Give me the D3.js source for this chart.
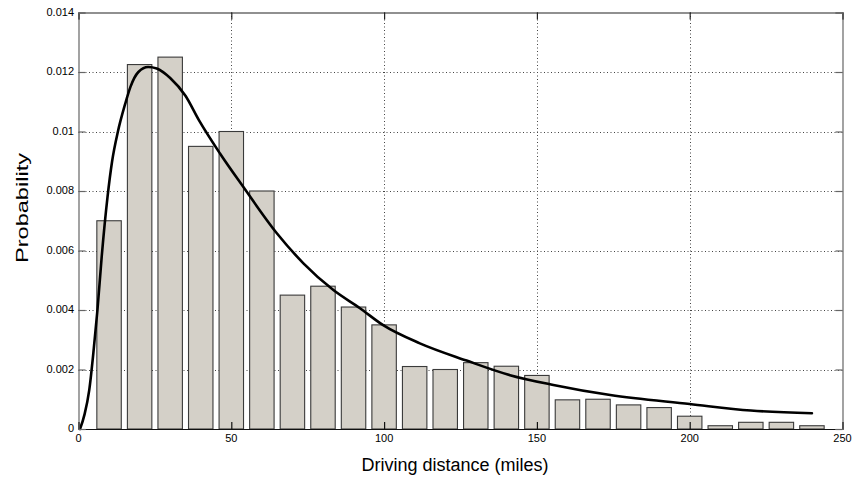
<!DOCTYPE html>
<html>
<head>
<meta charset="utf-8">
<script src="https://cdn.jsdelivr.net/npm/d3@7"></script>
<style>
  html, body { margin: 0; padding: 0; background: #fff; }
  svg { display: block; }
  .tick-label { font-family: "Liberation Sans Narrow", "Arial Narrow", "Liberation Sans", Arial, sans-serif; font-size: 11px; fill: #000; }
  .axis-title { font-family: "Liberation Sans", Arial, Helvetica, sans-serif; fill: #000; }
</style>
</head>
<body>
<svg id="chart" width="853" height="480"></svg>
<script>
// Histogram bins (bin centre, miles) and their probabilities
const binCenters = [10, 20, 30, 40, 50, 60, 70, 80, 90, 100, 110, 120,
                    130, 140, 150, 160, 170, 180, 190, 200, 210, 220, 230, 240];
const binProbs = [0.0070, 0.01225, 0.0125, 0.0095, 0.0100, 0.0080, 0.0045, 0.0048,
                  0.0041, 0.0035, 0.0021, 0.0020, 0.00223, 0.00211, 0.0018, 0.00098,
                  0.0010, 0.00081, 0.00072, 0.00043, 0.00011, 0.000225, 0.000225, 0.00011];

// Fitted density curve, sampled points (miles, probability)
const fitX = [0.5, 2, 3.5, 5, 6.2, 7.6, 9.5, 11, 12.9, 15.2, 17, 19.6, 22.8, 25.6,
              30, 35, 39.4, 46.3, 53.9, 64.9, 73.6, 83.4, 92.1, 99.7, 111.7, 127,
              141.2, 155.4, 174, 200, 220, 240];
const fitY = [0, 0.0005, 0.0013, 0.0027, 0.0040, 0.0058, 0.0078, 0.0090, 0.0100, 0.0109,
              0.0115, 0.0120, 0.01217, 0.01212, 0.0118, 0.0112, 0.01038, 0.00926, 0.00814,
              0.00658, 0.00557, 0.00467, 0.00406, 0.00349, 0.00288, 0.0023, 0.00181,
              0.00148, 0.00114, 0.00084, 0.00062, 0.00053];

// Axis ticks
const xTicks = [0, 50, 100, 150, 200, 250];
const xTickLabels = ["0", "50", "100", "150", "200", "250"];
const yTicks = [0, 0.002, 0.004, 0.006, 0.008, 0.01, 0.012, 0.014];
const yTickLabels = ["0", "0.002", "0.004", "0.006", "0.008", "0.01", "0.012", "0.014"];

const xTitle = "Driving distance (miles)";
const yTitle = "Probability";

const binWidth = 10;
const barFraction = 0.8;

const svg = d3.select("#chart");
const plot = { left: 78.5, right: 842.5, top: 12.5, bottom: 429 };

const x = d3.scaleLinear().domain([0, 250]).range([plot.left, plot.right]);
const y = d3.scaleLinear().domain([0, 0.014]).range([plot.bottom, plot.top]);

// Dotted grid
const grid = svg.append("g").attr("stroke", "#444").attr("stroke-width", 1)
  .attr("stroke-dasharray", "1,2.5");
grid.selectAll("line.vx").data(xTicks.slice(1, -1)).join("line")
  .attr("x1", d => Math.round(x(d)) + 0.5).attr("x2", d => Math.round(x(d)) + 0.5)
  .attr("y1", plot.top).attr("y2", plot.bottom);
grid.selectAll("line.hy").data(yTicks.slice(1, -1)).join("line")
  .attr("x1", plot.left).attr("x2", plot.right)
  .attr("y1", d => Math.round(y(d)) + 0.5).attr("y2", d => Math.round(y(d)) + 0.5);

// Bars
const bins = binCenters.map((c, i) => ({ c, p: binProbs[i] }));
svg.append("g").selectAll("rect").data(bins).join("rect")
  .attr("x", d => x(d.c - binWidth * barFraction / 2))
  .attr("width", d => x(d.c + binWidth * barFraction / 2) - x(d.c - binWidth * barFraction / 2))
  .attr("y", d => y(d.p))
  .attr("height", d => y(0) - y(d.p))
  .attr("fill", "#d4d0c8")
  .attr("stroke", "#3a3a3a")
  .attr("stroke-width", 1.1);

// Fitted curve
const fit = fitX.map((v, i) => [v, fitY[i]]);
svg.append("path")
  .datum(fit)
  .attr("fill", "none")
  .attr("stroke", "#000")
  .attr("stroke-width", 2.6)
  .attr("stroke-linejoin", "round")
  .attr("stroke-linecap", "round")
  .attr("d", d3.line().x(d => x(d[0])).y(d => y(d[1])).curve(d3.curveMonotoneX));

// Axes box with inward ticks
const tickLen = 7;
const axisBottom = d3.axisBottom(x).tickValues(xTicks).tickSize(-tickLen).tickFormat("");
const axisTop = d3.axisTop(x).tickValues(xTicks).tickSize(-tickLen).tickFormat("");
const axisLeft = d3.axisLeft(y).tickValues(yTicks).tickSize(-tickLen).tickFormat("");
const axisRight = d3.axisRight(y).tickValues(yTicks).tickSize(-tickLen).tickFormat("");

function styleAxis(g, color) {
  g.selectAll("path").attr("stroke", color).attr("stroke-width", 1.2);
  g.selectAll("line").attr("stroke", color).attr("stroke-width", 1.2);
}
styleAxis(svg.append("g").attr("transform", `translate(0,${plot.bottom})`).call(axisBottom), "#111");
styleAxis(svg.append("g").attr("transform", `translate(0,${plot.top})`).call(axisTop), "#222");
styleAxis(svg.append("g").attr("transform", `translate(${plot.left},0)`).call(axisLeft), "#666");
styleAxis(svg.append("g").attr("transform", `translate(${plot.right},0)`).call(axisRight), "#666");

// Tick labels
svg.append("g").selectAll("text").data(xTicks).join("text")
  .attr("class", "tick-label")
  .attr("x", d => x(d))
  .attr("y", 442)
  .attr("text-anchor", "middle")
  .text((d, i) => xTickLabels[i]);

svg.append("g").selectAll("text").data(yTicks).join("text")
  .attr("class", "tick-label")
  .attr("x", plot.left - 4.5)
  .attr("y", d => y(d))
  .attr("dy", "0.3em")
  .attr("text-anchor", "end")
  .text((d, i) => yTickLabels[i]);

// Axis titles
svg.append("text")
  .attr("class", "axis-title")
  .attr("x", 455)
  .attr("y", 471)
  .attr("text-anchor", "middle")
  .style("font-size", "18px")
  .text(xTitle);

svg.append("text")
  .attr("class", "axis-title")
  .attr("transform", "translate(28,208) rotate(-90)")
  .attr("text-anchor", "middle")
  .style("font-size", "17px")
  .attr("textLength", 110)
  .attr("lengthAdjust", "spacingAndGlyphs")
  .text(yTitle);
</script>
</body>
</html>
